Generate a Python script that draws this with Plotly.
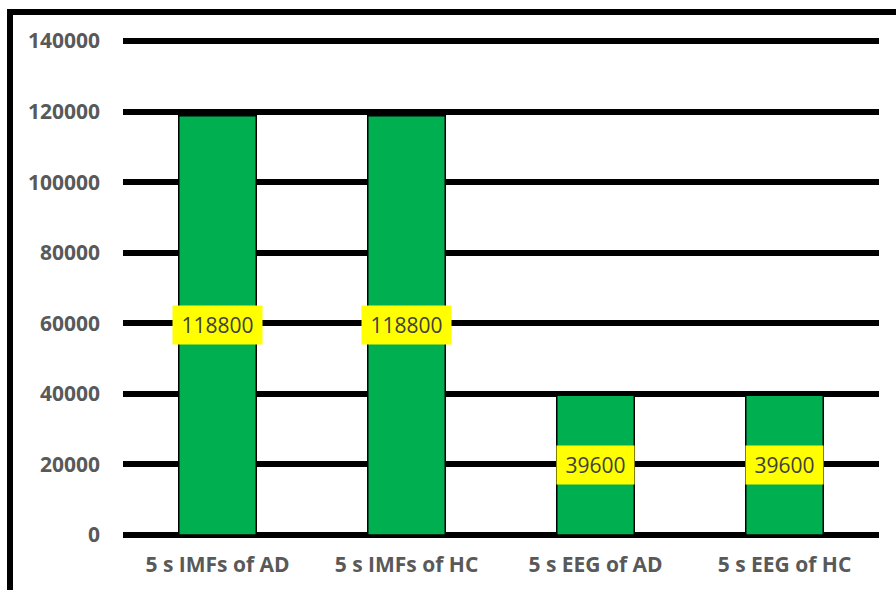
import plotly.graph_objects as go

categories = ["5 s IMFs of AD", "5 s IMFs of HC", "5 s EEG of AD", "5 s EEG of HC"]
sample_counts = [118800, 118800, 39600, 39600]
y_ticks = [0, 20000, 40000, 60000, 80000, 100000, 120000, 140000]

W, H = 896, 590
TICK_FONT = dict(family="Open Sans", size=21, color="#595959", weight="bold")
LABEL_FONT = dict(family="Open Sans", size=21, color="#404040")

fig = go.Figure(
    go.Bar(
        x=categories,
        y=sample_counts,
        marker=dict(color="#00B050", line=dict(color="#000000", width=1.5)),
        hoverinfo="x+y",
    )
)

# Yellow value boxes centred on each bar
for cat, val in zip(categories, sample_counts):
    txt = str(val)
    fig.add_annotation(
        x=cat,
        y=val / 2,
        text=txt,
        showarrow=False,
        font=LABEL_FONT,
        bgcolor="#FFFF00",
        width=12 * len(txt) + 17,
        height=38,
        borderpad=0,
    )

# Outer chart frame (runs past the right and bottom edges)
fig.add_shape(
    type="rect",
    xref="paper", yref="paper",
    x0=-(123 - 10) / (W - 123 - 17),
    x1=1 + 60 / (W - 123 - 17),
    y0=-0.3,
    y1=1 + (34 - 12) / (590 - 34 - 46),
    line=dict(color="#000000", width=6),
    fillcolor="rgba(0,0,0,0)",
    layer="above",
)

fig.update_layout(
    width=W,
    height=H,
    margin=dict(l=123, r=17, t=34, b=46),
    paper_bgcolor="#FFFFFF",
    plot_bgcolor="#FFFFFF",
    bargap=0.59,
    showlegend=False,
    xaxis=dict(
        showgrid=False,
        showline=False,
        zeroline=False,
        ticks="",
        tickfont=TICK_FONT,
        ticklabelstandoff=8,
    ),
    yaxis=dict(
        range=[-2000, 142000],
        tickvals=y_ticks,
        ticktext=[str(v) for v in y_ticks],
        showgrid=True,
        gridcolor="#000000",
        gridwidth=5.5,
        zeroline=False,
        showline=False,
        ticks="",
        tickfont=TICK_FONT,
        ticklabelstandoff=22,
    ),
)

fig.write_html("out.html")
